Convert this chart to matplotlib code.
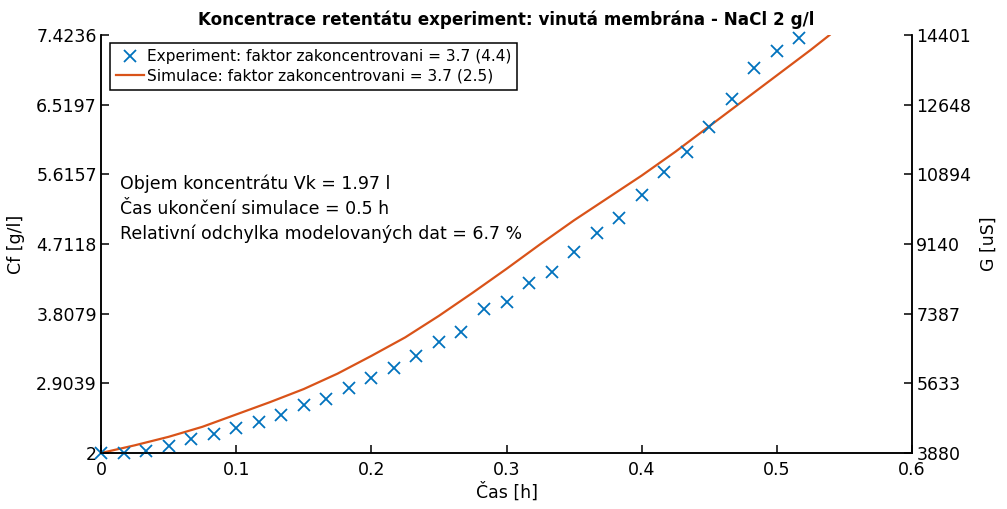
import numpy as np
import matplotlib
matplotlib.use("Agg")
import matplotlib.pyplot as plt

# measured retentate concentration, one sample per minute
t_exp = np.arange(32) / 60.0
cf_exp = [2.00, 2.00, 2.02, 2.09, 2.18, 2.25, 2.32, 2.40, 2.49, 2.62, 2.70,
          2.85, 2.97, 3.10, 3.26, 3.44, 3.57, 3.87, 3.96, 4.20, 4.35, 4.61,
          4.85, 5.05, 5.35, 5.64, 5.91, 6.23, 6.59, 6.99, 7.22, 7.38]

# model output
t_sim = [0.0, 0.025, 0.05, 0.075, 0.1, 0.125, 0.15, 0.175, 0.2, 0.225, 0.25,
         0.275, 0.3, 0.325, 0.35, 0.375, 0.4, 0.425, 0.45, 0.475, 0.5, 0.525,
         0.539]
cf_sim = [2.0, 2.10, 2.21, 2.34, 2.50, 2.66, 2.83, 3.03, 3.26, 3.50, 3.78,
          4.08, 4.39, 4.71, 5.02, 5.31, 5.60, 5.91, 6.24, 6.57, 6.90, 7.23,
          7.4236]

cf_ticks = [2, 2.9039, 3.8079, 4.7118, 5.6157, 6.5197, 7.4236]
cf_labels = ["2", "2.9039", "3.8079", "4.7118", "5.6157", "6.5197", "7.4236"]
g_ticks = [3880, 5633, 7387, 9140, 10894, 12648, 14401]
x_ticks = [0, 0.1, 0.2, 0.3, 0.4, 0.5, 0.6]
x_labels = ["0", "0.1", "0.2", "0.3", "0.4", "0.5", "0.6"]

info = ["Objem koncentrátu Vk = 1.97 l",
        "Čas ukončení simulace = 0.5 h",
        "Relativní odchylka modelovaných dat = 6.7 %"]

BLUE = "#0072BD"
ORANGE = "#D95319"

plt.rcParams["font.family"] = ["DejaVu Sans"]
plt.rcParams["axes.linewidth"] = 1.1

fig = plt.figure(figsize=(10.07, 5.09), dpi=100)
ax = fig.add_axes([0.1003, 0.11, 0.8054, 0.8212])
ax2 = ax.twinx()

ax.plot(t_exp, cf_exp, "x", color=BLUE, ms=9, mew=1.3, clip_on=False,
        label="Experiment: faktor zakoncentrovani = 3.7 (4.4)", zorder=3)
ax.plot(t_sim, cf_sim, "-", color=ORANGE, lw=1.6,
        label="Simulace: faktor zakoncentrovani = 3.7 (2.5)")

ax.set_xlim(0, 0.6)
ax.set_ylim(2, 7.4236)
ax2.set_ylim(3880, 14401)

ax.set_xticks(x_ticks)
ax.set_xticklabels(x_labels)
ax.set_yticks(cf_ticks)
ax.set_yticklabels(cf_labels)
ax2.set_yticks(g_ticks)

for a in (ax, ax2):
    a.spines["top"].set_visible(False)
    a.tick_params(direction="in", length=6, width=1.1, labelsize=12.5,
                  colors="black", pad=3)
ax.tick_params(axis="x", pad=6)

ax.set_xlabel("Čas [h]", fontsize=12.5, labelpad=2)
ax.set_ylabel("Cf [g/l]", fontsize=12.5, labelpad=8)
ax2.set_ylabel("G [uS]", fontsize=12.5, labelpad=6)
ax.set_title("Koncentrace retentátu experiment: vinutá membrána - NaCl 2 g/l",
             fontsize=12.1, fontweight="bold", pad=7)

leg = ax.legend(loc="upper left", bbox_to_anchor=(0.011, 0.981), fontsize=11.1,
                fancybox=False, edgecolor="black", framealpha=1,
                handlelength=1.8, handletextpad=0.2, borderpad=0.4,
                labelspacing=0.28, borderaxespad=0)
leg.get_frame().set_linewidth(1.1)
leg.set_zorder(5)

for i, line in enumerate(info):
    ax.text(0.014, 5.49 - i * 0.325, line, fontsize=12.5, va="center",
            ha="left")

fig.savefig("out.png", dpi=100)
